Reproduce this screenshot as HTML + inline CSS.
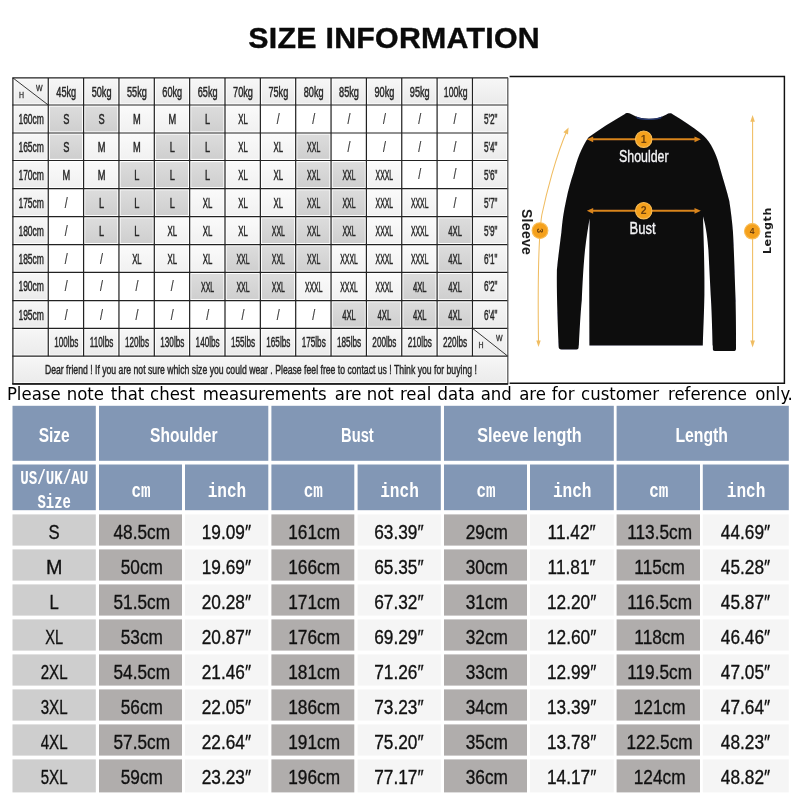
<!DOCTYPE html>
<html lang="en"><head><meta charset="utf-8"><title>Size Information</title>
<style>
html,body{margin:0;padding:0;background:#fff;}
body{width:800px;height:800px;overflow:hidden;position:relative;font-family:"Liberation Sans",sans-serif;}
svg{position:absolute;left:0;top:0;display:block;}
text{font-family:"Liberation Sans",sans-serif;}
.tt{font-size:14px;fill:#262626;stroke:#262626;stroke-width:0.45px;text-anchor:middle;}
.bd{font-size:20.8px;fill:#111;stroke:#111;stroke-width:0.35px;text-anchor:middle;}
.note{font-family:"DejaVu Sans Condensed","DejaVu Sans",sans-serif;font-stretch:condensed;font-size:18.4px;fill:#000;}
.h1{font-size:20px;font-weight:bold;fill:#fff;text-anchor:middle;}
.h2{font-family:"Liberation Mono",monospace;font-weight:bold;fill:#fff;text-anchor:middle;}
</style></head><body>
<svg width="800" height="800" viewBox="0 0 800 800">
<defs>
<linearGradient id="gh" x1="0" y1="0" x2="0" y2="1"><stop offset="0" stop-color="#f6f6f6"/><stop offset="1" stop-color="#ebebeb"/></linearGradient>
<linearGradient id="gd" x1="0" y1="0" x2="0" y2="1"><stop offset="0" stop-color="#dcdcdc"/><stop offset="1" stop-color="#cfcfcf"/></linearGradient>
<linearGradient id="gl" x1="0" y1="0" x2="0" y2="1"><stop offset="0" stop-color="#fafafa"/><stop offset="1" stop-color="#f1f1f1"/></linearGradient>
<filter id="soft" x="-2%" y="-2%" width="104%" height="104%"><feGaussianBlur stdDeviation="0.35"/></filter>
<filter id="soft2" x="-2%" y="-2%" width="104%" height="104%"><feGaussianBlur stdDeviation="0.3"/></filter>
</defs>

<text x="248.3" y="48.4" font-size="30.3" font-weight="bold" letter-spacing="0.28" fill="#0a0a0a" stroke="#0a0a0a" stroke-width="0.4">SIZE INFORMATION</text>
<g id="toptable" filter="url(#soft)">
<rect x="12.90" y="77.9" width="494.90" height="306.00" fill="#fff"/>
<rect x="14.50" y="79.50" width="32.15" height="23.90" fill="url(#gh)"/>
<rect x="14.50" y="329.90" width="32.15" height="24.70" fill="url(#gh)"/>
<rect x="49.85" y="79.50" width="32.15" height="23.90" fill="url(#gh)"/>
<rect x="49.85" y="329.90" width="32.15" height="24.70" fill="url(#gh)"/>
<rect x="85.20" y="79.50" width="32.15" height="23.90" fill="url(#gh)"/>
<rect x="85.20" y="329.90" width="32.15" height="24.70" fill="url(#gh)"/>
<rect x="120.55" y="79.50" width="32.15" height="23.90" fill="url(#gh)"/>
<rect x="120.55" y="329.90" width="32.15" height="24.70" fill="url(#gh)"/>
<rect x="155.90" y="79.50" width="32.15" height="23.90" fill="url(#gh)"/>
<rect x="155.90" y="329.90" width="32.15" height="24.70" fill="url(#gh)"/>
<rect x="191.25" y="79.50" width="32.15" height="23.90" fill="url(#gh)"/>
<rect x="191.25" y="329.90" width="32.15" height="24.70" fill="url(#gh)"/>
<rect x="226.60" y="79.50" width="32.15" height="23.90" fill="url(#gh)"/>
<rect x="226.60" y="329.90" width="32.15" height="24.70" fill="url(#gh)"/>
<rect x="261.95" y="79.50" width="32.15" height="23.90" fill="url(#gh)"/>
<rect x="261.95" y="329.90" width="32.15" height="24.70" fill="url(#gh)"/>
<rect x="297.30" y="79.50" width="32.15" height="23.90" fill="url(#gh)"/>
<rect x="297.30" y="329.90" width="32.15" height="24.70" fill="url(#gh)"/>
<rect x="332.65" y="79.50" width="32.15" height="23.90" fill="url(#gh)"/>
<rect x="332.65" y="329.90" width="32.15" height="24.70" fill="url(#gh)"/>
<rect x="368.00" y="79.50" width="32.15" height="23.90" fill="url(#gh)"/>
<rect x="368.00" y="329.90" width="32.15" height="24.70" fill="url(#gh)"/>
<rect x="403.35" y="79.50" width="32.15" height="23.90" fill="url(#gh)"/>
<rect x="403.35" y="329.90" width="32.15" height="24.70" fill="url(#gh)"/>
<rect x="438.70" y="79.50" width="32.15" height="23.90" fill="url(#gh)"/>
<rect x="438.70" y="329.90" width="32.15" height="24.70" fill="url(#gh)"/>
<rect x="474.05" y="79.50" width="32.15" height="23.90" fill="url(#gh)"/>
<rect x="474.05" y="329.90" width="32.15" height="24.70" fill="url(#gh)"/>
<rect x="14.50" y="357.80" width="491.70" height="24.50" fill="url(#gh)"/>
<rect x="14.50" y="106.60" width="32.15" height="24.80" fill="url(#gh)"/>
<rect x="474.05" y="106.60" width="32.15" height="24.80" fill="url(#gh)"/>
<rect x="49.85" y="106.60" width="32.15" height="24.80" fill="url(#gd)"/>
<rect x="85.20" y="106.60" width="32.15" height="24.80" fill="url(#gd)"/>
<rect x="120.55" y="106.60" width="32.15" height="24.80" fill="url(#gl)"/>
<rect x="155.90" y="106.60" width="32.15" height="24.80" fill="url(#gl)"/>
<rect x="191.25" y="106.60" width="32.15" height="24.80" fill="url(#gd)"/>
<rect x="226.60" y="106.60" width="32.15" height="24.80" fill="url(#gl)"/>
<rect x="14.50" y="134.60" width="32.15" height="24.30" fill="url(#gh)"/>
<rect x="474.05" y="134.60" width="32.15" height="24.30" fill="url(#gh)"/>
<rect x="49.85" y="134.60" width="32.15" height="24.30" fill="url(#gd)"/>
<rect x="85.20" y="134.60" width="32.15" height="24.30" fill="url(#gl)"/>
<rect x="120.55" y="134.60" width="32.15" height="24.30" fill="url(#gl)"/>
<rect x="155.90" y="134.60" width="32.15" height="24.30" fill="url(#gd)"/>
<rect x="191.25" y="134.60" width="32.15" height="24.30" fill="url(#gd)"/>
<rect x="226.60" y="134.60" width="32.15" height="24.30" fill="url(#gl)"/>
<rect x="261.95" y="134.60" width="32.15" height="24.30" fill="url(#gl)"/>
<rect x="297.30" y="134.60" width="32.15" height="24.30" fill="url(#gd)"/>
<rect x="14.50" y="162.10" width="32.15" height="25.00" fill="url(#gh)"/>
<rect x="474.05" y="162.10" width="32.15" height="25.00" fill="url(#gh)"/>
<rect x="49.85" y="162.10" width="32.15" height="25.00" fill="url(#gl)"/>
<rect x="85.20" y="162.10" width="32.15" height="25.00" fill="url(#gl)"/>
<rect x="120.55" y="162.10" width="32.15" height="25.00" fill="url(#gd)"/>
<rect x="155.90" y="162.10" width="32.15" height="25.00" fill="url(#gd)"/>
<rect x="191.25" y="162.10" width="32.15" height="25.00" fill="url(#gd)"/>
<rect x="226.60" y="162.10" width="32.15" height="25.00" fill="url(#gl)"/>
<rect x="261.95" y="162.10" width="32.15" height="25.00" fill="url(#gl)"/>
<rect x="297.30" y="162.10" width="32.15" height="25.00" fill="url(#gd)"/>
<rect x="332.65" y="162.10" width="32.15" height="25.00" fill="url(#gd)"/>
<rect x="368.00" y="162.10" width="32.15" height="25.00" fill="url(#gl)"/>
<rect x="14.50" y="190.30" width="32.15" height="24.80" fill="url(#gh)"/>
<rect x="474.05" y="190.30" width="32.15" height="24.80" fill="url(#gh)"/>
<rect x="85.20" y="190.30" width="32.15" height="24.80" fill="url(#gd)"/>
<rect x="120.55" y="190.30" width="32.15" height="24.80" fill="url(#gd)"/>
<rect x="155.90" y="190.30" width="32.15" height="24.80" fill="url(#gd)"/>
<rect x="191.25" y="190.30" width="32.15" height="24.80" fill="url(#gl)"/>
<rect x="226.60" y="190.30" width="32.15" height="24.80" fill="url(#gl)"/>
<rect x="261.95" y="190.30" width="32.15" height="24.80" fill="url(#gl)"/>
<rect x="297.30" y="190.30" width="32.15" height="24.80" fill="url(#gd)"/>
<rect x="332.65" y="190.30" width="32.15" height="24.80" fill="url(#gd)"/>
<rect x="368.00" y="190.30" width="32.15" height="24.80" fill="url(#gl)"/>
<rect x="403.35" y="190.30" width="32.15" height="24.80" fill="url(#gl)"/>
<rect x="14.50" y="218.30" width="32.15" height="24.70" fill="url(#gh)"/>
<rect x="474.05" y="218.30" width="32.15" height="24.70" fill="url(#gh)"/>
<rect x="85.20" y="218.30" width="32.15" height="24.70" fill="url(#gd)"/>
<rect x="120.55" y="218.30" width="32.15" height="24.70" fill="url(#gd)"/>
<rect x="155.90" y="218.30" width="32.15" height="24.70" fill="url(#gl)"/>
<rect x="191.25" y="218.30" width="32.15" height="24.70" fill="url(#gl)"/>
<rect x="226.60" y="218.30" width="32.15" height="24.70" fill="url(#gl)"/>
<rect x="261.95" y="218.30" width="32.15" height="24.70" fill="url(#gd)"/>
<rect x="297.30" y="218.30" width="32.15" height="24.70" fill="url(#gd)"/>
<rect x="332.65" y="218.30" width="32.15" height="24.70" fill="url(#gd)"/>
<rect x="368.00" y="218.30" width="32.15" height="24.70" fill="url(#gl)"/>
<rect x="403.35" y="218.30" width="32.15" height="24.70" fill="url(#gl)"/>
<rect x="438.70" y="218.30" width="32.15" height="24.70" fill="url(#gd)"/>
<rect x="14.50" y="246.20" width="32.15" height="24.60" fill="url(#gh)"/>
<rect x="474.05" y="246.20" width="32.15" height="24.60" fill="url(#gh)"/>
<rect x="120.55" y="246.20" width="32.15" height="24.60" fill="url(#gl)"/>
<rect x="155.90" y="246.20" width="32.15" height="24.60" fill="url(#gl)"/>
<rect x="191.25" y="246.20" width="32.15" height="24.60" fill="url(#gl)"/>
<rect x="226.60" y="246.20" width="32.15" height="24.60" fill="url(#gd)"/>
<rect x="261.95" y="246.20" width="32.15" height="24.60" fill="url(#gd)"/>
<rect x="297.30" y="246.20" width="32.15" height="24.60" fill="url(#gd)"/>
<rect x="332.65" y="246.20" width="32.15" height="24.60" fill="url(#gl)"/>
<rect x="368.00" y="246.20" width="32.15" height="24.60" fill="url(#gl)"/>
<rect x="403.35" y="246.20" width="32.15" height="24.60" fill="url(#gl)"/>
<rect x="438.70" y="246.20" width="32.15" height="24.60" fill="url(#gd)"/>
<rect x="14.50" y="274.00" width="32.15" height="25.10" fill="url(#gh)"/>
<rect x="474.05" y="274.00" width="32.15" height="25.10" fill="url(#gh)"/>
<rect x="191.25" y="274.00" width="32.15" height="25.10" fill="url(#gd)"/>
<rect x="226.60" y="274.00" width="32.15" height="25.10" fill="url(#gd)"/>
<rect x="261.95" y="274.00" width="32.15" height="25.10" fill="url(#gd)"/>
<rect x="297.30" y="274.00" width="32.15" height="25.10" fill="url(#gl)"/>
<rect x="332.65" y="274.00" width="32.15" height="25.10" fill="url(#gl)"/>
<rect x="368.00" y="274.00" width="32.15" height="25.10" fill="url(#gl)"/>
<rect x="403.35" y="274.00" width="32.15" height="25.10" fill="url(#gd)"/>
<rect x="438.70" y="274.00" width="32.15" height="25.10" fill="url(#gd)"/>
<rect x="14.50" y="302.30" width="32.15" height="24.40" fill="url(#gh)"/>
<rect x="474.05" y="302.30" width="32.15" height="24.40" fill="url(#gh)"/>
<rect x="332.65" y="302.30" width="32.15" height="24.40" fill="url(#gd)"/>
<rect x="368.00" y="302.30" width="32.15" height="24.40" fill="url(#gd)"/>
<rect x="403.35" y="302.30" width="32.15" height="24.40" fill="url(#gd)"/>
<rect x="438.70" y="302.30" width="32.15" height="24.40" fill="url(#gd)"/>
<line x1="12.30" y1="77.9" x2="508.10" y2="77.9" stroke="#222222" stroke-width="1.22"/>
<line x1="12.30" y1="105" x2="508.10" y2="105" stroke="#222222" stroke-width="1.22"/>
<line x1="12.30" y1="133" x2="508.10" y2="133" stroke="#222222" stroke-width="1.22"/>
<line x1="12.30" y1="160.5" x2="508.10" y2="160.5" stroke="#222222" stroke-width="1.22"/>
<line x1="12.30" y1="188.7" x2="508.10" y2="188.7" stroke="#222222" stroke-width="1.22"/>
<line x1="12.30" y1="216.7" x2="508.10" y2="216.7" stroke="#222222" stroke-width="1.22"/>
<line x1="12.30" y1="244.6" x2="508.10" y2="244.6" stroke="#222222" stroke-width="1.22"/>
<line x1="12.30" y1="272.4" x2="508.10" y2="272.4" stroke="#222222" stroke-width="1.22"/>
<line x1="12.30" y1="300.7" x2="508.10" y2="300.7" stroke="#222222" stroke-width="1.22"/>
<line x1="12.30" y1="328.3" x2="508.10" y2="328.3" stroke="#222222" stroke-width="1.22"/>
<line x1="12.30" y1="356.2" x2="508.10" y2="356.2" stroke="#222222" stroke-width="1.22"/>
<line x1="12.30" y1="383.9" x2="508.10" y2="383.9" stroke="#222222" stroke-width="1.22"/>
<line x1="12.90" y1="77.9" x2="12.90" y2="383.9" stroke="#222222" stroke-width="1.22"/>
<line x1="48.25" y1="77.9" x2="48.25" y2="356.2" stroke="#222222" stroke-width="1.22"/>
<line x1="83.60" y1="77.9" x2="83.60" y2="356.2" stroke="#222222" stroke-width="1.22"/>
<line x1="118.95" y1="77.9" x2="118.95" y2="356.2" stroke="#222222" stroke-width="1.22"/>
<line x1="154.30" y1="77.9" x2="154.30" y2="356.2" stroke="#222222" stroke-width="1.22"/>
<line x1="189.65" y1="77.9" x2="189.65" y2="356.2" stroke="#222222" stroke-width="1.22"/>
<line x1="225.00" y1="77.9" x2="225.00" y2="356.2" stroke="#222222" stroke-width="1.22"/>
<line x1="260.35" y1="77.9" x2="260.35" y2="356.2" stroke="#222222" stroke-width="1.22"/>
<line x1="295.70" y1="77.9" x2="295.70" y2="356.2" stroke="#222222" stroke-width="1.22"/>
<line x1="331.05" y1="77.9" x2="331.05" y2="356.2" stroke="#222222" stroke-width="1.22"/>
<line x1="366.40" y1="77.9" x2="366.40" y2="356.2" stroke="#222222" stroke-width="1.22"/>
<line x1="401.75" y1="77.9" x2="401.75" y2="356.2" stroke="#222222" stroke-width="1.22"/>
<line x1="437.10" y1="77.9" x2="437.10" y2="356.2" stroke="#222222" stroke-width="1.22"/>
<line x1="472.45" y1="77.9" x2="472.45" y2="356.2" stroke="#222222" stroke-width="1.22"/>
<line x1="507.80" y1="77.9" x2="507.80" y2="383.9" stroke="#5a5a5a" stroke-width="1.3"/>
<line x1="12.30" y1="383.9" x2="508.10" y2="383.9" stroke="#222222" stroke-width="1.7"/>
<line x1="12.90" y1="77.9" x2="48.25" y2="105" stroke="#222222" stroke-width="0.9"/>
<line x1="472.45" y1="328.3" x2="507.80" y2="356.2" stroke="#222222" stroke-width="0.9"/>
<text class="tt" transform="translate(66.23,96.70) scale(0.655,1)" >45kg</text>
<text class="tt" transform="translate(66.23,346.60) scale(0.585,1)" >100lbs</text>
<text class="tt" transform="translate(101.58,96.70) scale(0.655,1)" >50kg</text>
<text class="tt" transform="translate(101.58,346.60) scale(0.585,1)" >110lbs</text>
<text class="tt" transform="translate(136.93,96.70) scale(0.655,1)" >55kg</text>
<text class="tt" transform="translate(136.93,346.60) scale(0.585,1)" >120lbs</text>
<text class="tt" transform="translate(172.28,96.70) scale(0.655,1)" >60kg</text>
<text class="tt" transform="translate(172.28,346.60) scale(0.585,1)" >130lbs</text>
<text class="tt" transform="translate(207.63,96.70) scale(0.655,1)" >65kg</text>
<text class="tt" transform="translate(207.63,346.60) scale(0.585,1)" >140lbs</text>
<text class="tt" transform="translate(242.98,96.70) scale(0.655,1)" >70kg</text>
<text class="tt" transform="translate(242.98,346.60) scale(0.585,1)" >155lbs</text>
<text class="tt" transform="translate(278.32,96.70) scale(0.655,1)" >75kg</text>
<text class="tt" transform="translate(278.32,346.60) scale(0.585,1)" >165lbs</text>
<text class="tt" transform="translate(313.68,96.70) scale(0.655,1)" >80kg</text>
<text class="tt" transform="translate(313.68,346.60) scale(0.585,1)" >175lbs</text>
<text class="tt" transform="translate(349.03,96.70) scale(0.655,1)" >85kg</text>
<text class="tt" transform="translate(349.03,346.60) scale(0.585,1)" >185lbs</text>
<text class="tt" transform="translate(384.38,96.70) scale(0.655,1)" >90kg</text>
<text class="tt" transform="translate(384.38,346.60) scale(0.585,1)" >200lbs</text>
<text class="tt" transform="translate(419.73,96.70) scale(0.655,1)" >95kg</text>
<text class="tt" transform="translate(419.73,346.60) scale(0.585,1)" >210lbs</text>
<text class="tt" transform="translate(455.68,96.70) scale(0.62,1)" >100kg</text>
<text class="tt" transform="translate(455.07,346.60) scale(0.585,1)" >220lbs</text>
<text class="tt" transform="translate(31.18,124.00) scale(0.61,1)" >160cm</text>
<text class="tt" transform="translate(490.73,124.00) scale(0.585,1)" >5'2&quot;</text>
<text class="tt" transform="translate(66.23,124.20) scale(0.66,1)" >S</text>
<text class="tt" transform="translate(101.58,124.20) scale(0.66,1)" >S</text>
<text class="tt" transform="translate(136.93,124.20) scale(0.66,1)" >M</text>
<text class="tt" transform="translate(172.28,124.20) scale(0.66,1)" >M</text>
<text class="tt" transform="translate(207.63,124.20) scale(0.66,1)" >L</text>
<text class="tt" transform="translate(242.98,124.20) scale(0.56,1)" >XL</text>
<text class="tt" transform="translate(278.32,123.90) scale(0.75,1)" style="stroke-width:0.2px;fill:#333;font-size:14px">/</text>
<text class="tt" transform="translate(313.68,123.90) scale(0.75,1)" style="stroke-width:0.2px;fill:#333;font-size:14px">/</text>
<text class="tt" transform="translate(349.03,123.90) scale(0.75,1)" style="stroke-width:0.2px;fill:#333;font-size:14px">/</text>
<text class="tt" transform="translate(384.38,123.90) scale(0.75,1)" style="stroke-width:0.2px;fill:#333;font-size:14px">/</text>
<text class="tt" transform="translate(419.73,123.90) scale(0.75,1)" style="stroke-width:0.2px;fill:#333;font-size:14px">/</text>
<text class="tt" transform="translate(455.07,123.90) scale(0.75,1)" style="stroke-width:0.2px;fill:#333;font-size:14px">/</text>
<text class="tt" transform="translate(31.18,152.00) scale(0.61,1)" >165cm</text>
<text class="tt" transform="translate(490.73,152.00) scale(0.585,1)" >5'4&quot;</text>
<text class="tt" transform="translate(66.23,152.20) scale(0.66,1)" >S</text>
<text class="tt" transform="translate(101.58,152.20) scale(0.66,1)" >M</text>
<text class="tt" transform="translate(136.93,152.20) scale(0.66,1)" >M</text>
<text class="tt" transform="translate(172.28,152.20) scale(0.66,1)" >L</text>
<text class="tt" transform="translate(207.63,152.20) scale(0.66,1)" >L</text>
<text class="tt" transform="translate(242.98,152.20) scale(0.56,1)" >XL</text>
<text class="tt" transform="translate(278.32,152.20) scale(0.56,1)" >XL</text>
<text class="tt" transform="translate(313.68,152.20) scale(0.5,1)" >XXL</text>
<text class="tt" transform="translate(349.03,151.90) scale(0.75,1)" style="stroke-width:0.2px;fill:#333;font-size:14px">/</text>
<text class="tt" transform="translate(384.38,151.90) scale(0.75,1)" style="stroke-width:0.2px;fill:#333;font-size:14px">/</text>
<text class="tt" transform="translate(419.73,151.90) scale(0.75,1)" style="stroke-width:0.2px;fill:#333;font-size:14px">/</text>
<text class="tt" transform="translate(455.07,151.90) scale(0.75,1)" style="stroke-width:0.2px;fill:#333;font-size:14px">/</text>
<text class="tt" transform="translate(31.18,179.50) scale(0.61,1)" >170cm</text>
<text class="tt" transform="translate(490.73,179.50) scale(0.585,1)" >5'6&quot;</text>
<text class="tt" transform="translate(66.23,179.70) scale(0.66,1)" >M</text>
<text class="tt" transform="translate(101.58,179.70) scale(0.66,1)" >M</text>
<text class="tt" transform="translate(136.93,179.70) scale(0.66,1)" >L</text>
<text class="tt" transform="translate(172.28,179.70) scale(0.66,1)" >L</text>
<text class="tt" transform="translate(207.63,179.70) scale(0.66,1)" >L</text>
<text class="tt" transform="translate(242.98,179.70) scale(0.56,1)" >XL</text>
<text class="tt" transform="translate(278.32,179.70) scale(0.56,1)" >XL</text>
<text class="tt" transform="translate(313.68,179.70) scale(0.5,1)" >XXL</text>
<text class="tt" transform="translate(349.03,179.70) scale(0.5,1)" >XXL</text>
<text class="tt" transform="translate(384.38,179.70) scale(0.49,1)" >XXXL</text>
<text class="tt" transform="translate(419.73,179.40) scale(0.75,1)" style="stroke-width:0.2px;fill:#333;font-size:14px">/</text>
<text class="tt" transform="translate(455.07,179.40) scale(0.75,1)" style="stroke-width:0.2px;fill:#333;font-size:14px">/</text>
<text class="tt" transform="translate(31.18,207.70) scale(0.61,1)" >175cm</text>
<text class="tt" transform="translate(490.73,207.70) scale(0.585,1)" >5'7&quot;</text>
<text class="tt" transform="translate(66.23,207.60) scale(0.75,1)" style="stroke-width:0.2px;fill:#333;font-size:14px">/</text>
<text class="tt" transform="translate(101.58,207.90) scale(0.66,1)" >L</text>
<text class="tt" transform="translate(136.93,207.90) scale(0.66,1)" >L</text>
<text class="tt" transform="translate(172.28,207.90) scale(0.66,1)" >L</text>
<text class="tt" transform="translate(207.63,207.90) scale(0.56,1)" >XL</text>
<text class="tt" transform="translate(242.98,207.90) scale(0.56,1)" >XL</text>
<text class="tt" transform="translate(278.32,207.90) scale(0.56,1)" >XL</text>
<text class="tt" transform="translate(313.68,207.90) scale(0.5,1)" >XXL</text>
<text class="tt" transform="translate(349.03,207.90) scale(0.5,1)" >XXL</text>
<text class="tt" transform="translate(384.38,207.90) scale(0.49,1)" >XXXL</text>
<text class="tt" transform="translate(419.73,207.90) scale(0.49,1)" >XXXL</text>
<text class="tt" transform="translate(455.07,207.60) scale(0.75,1)" style="stroke-width:0.2px;fill:#333;font-size:14px">/</text>
<text class="tt" transform="translate(31.18,235.70) scale(0.61,1)" >180cm</text>
<text class="tt" transform="translate(490.73,235.70) scale(0.585,1)" >5'9&quot;</text>
<text class="tt" transform="translate(66.23,235.60) scale(0.75,1)" style="stroke-width:0.2px;fill:#333;font-size:14px">/</text>
<text class="tt" transform="translate(101.58,235.90) scale(0.66,1)" >L</text>
<text class="tt" transform="translate(136.93,235.90) scale(0.66,1)" >L</text>
<text class="tt" transform="translate(172.28,235.90) scale(0.56,1)" >XL</text>
<text class="tt" transform="translate(207.63,235.90) scale(0.56,1)" >XL</text>
<text class="tt" transform="translate(242.98,235.90) scale(0.56,1)" >XL</text>
<text class="tt" transform="translate(278.32,235.90) scale(0.5,1)" >XXL</text>
<text class="tt" transform="translate(313.68,235.90) scale(0.5,1)" >XXL</text>
<text class="tt" transform="translate(349.03,235.90) scale(0.5,1)" >XXL</text>
<text class="tt" transform="translate(384.38,235.90) scale(0.49,1)" >XXXL</text>
<text class="tt" transform="translate(419.73,235.90) scale(0.49,1)" >XXXL</text>
<text class="tt" transform="translate(455.07,235.90) scale(0.55,1)" >4XL</text>
<text class="tt" transform="translate(31.18,263.60) scale(0.61,1)" >185cm</text>
<text class="tt" transform="translate(490.73,263.60) scale(0.585,1)" >6'1&quot;</text>
<text class="tt" transform="translate(66.23,263.50) scale(0.75,1)" style="stroke-width:0.2px;fill:#333;font-size:14px">/</text>
<text class="tt" transform="translate(101.58,263.50) scale(0.75,1)" style="stroke-width:0.2px;fill:#333;font-size:14px">/</text>
<text class="tt" transform="translate(136.93,263.80) scale(0.56,1)" >XL</text>
<text class="tt" transform="translate(172.28,263.80) scale(0.56,1)" >XL</text>
<text class="tt" transform="translate(207.63,263.80) scale(0.56,1)" >XL</text>
<text class="tt" transform="translate(242.98,263.80) scale(0.5,1)" >XXL</text>
<text class="tt" transform="translate(278.32,263.80) scale(0.5,1)" >XXL</text>
<text class="tt" transform="translate(313.68,263.80) scale(0.5,1)" >XXL</text>
<text class="tt" transform="translate(349.03,263.80) scale(0.49,1)" >XXXL</text>
<text class="tt" transform="translate(384.38,263.80) scale(0.49,1)" >XXXL</text>
<text class="tt" transform="translate(419.73,263.80) scale(0.49,1)" >XXXL</text>
<text class="tt" transform="translate(455.07,263.80) scale(0.55,1)" >4XL</text>
<text class="tt" transform="translate(31.18,291.40) scale(0.61,1)" >190cm</text>
<text class="tt" transform="translate(490.73,291.40) scale(0.585,1)" >6'2&quot;</text>
<text class="tt" transform="translate(66.23,291.30) scale(0.75,1)" style="stroke-width:0.2px;fill:#333;font-size:14px">/</text>
<text class="tt" transform="translate(101.58,291.30) scale(0.75,1)" style="stroke-width:0.2px;fill:#333;font-size:14px">/</text>
<text class="tt" transform="translate(136.93,291.30) scale(0.75,1)" style="stroke-width:0.2px;fill:#333;font-size:14px">/</text>
<text class="tt" transform="translate(172.28,291.30) scale(0.75,1)" style="stroke-width:0.2px;fill:#333;font-size:14px">/</text>
<text class="tt" transform="translate(207.63,291.60) scale(0.5,1)" >XXL</text>
<text class="tt" transform="translate(242.98,291.60) scale(0.5,1)" >XXL</text>
<text class="tt" transform="translate(278.32,291.60) scale(0.5,1)" >XXL</text>
<text class="tt" transform="translate(313.68,291.60) scale(0.49,1)" >XXXL</text>
<text class="tt" transform="translate(349.03,291.60) scale(0.49,1)" >XXXL</text>
<text class="tt" transform="translate(384.38,291.60) scale(0.49,1)" >XXXL</text>
<text class="tt" transform="translate(419.73,291.60) scale(0.55,1)" >4XL</text>
<text class="tt" transform="translate(455.07,291.60) scale(0.55,1)" >4XL</text>
<text class="tt" transform="translate(31.18,319.70) scale(0.61,1)" >195cm</text>
<text class="tt" transform="translate(490.73,319.70) scale(0.585,1)" >6'4&quot;</text>
<text class="tt" transform="translate(66.23,319.60) scale(0.75,1)" style="stroke-width:0.2px;fill:#333;font-size:14px">/</text>
<text class="tt" transform="translate(101.58,319.60) scale(0.75,1)" style="stroke-width:0.2px;fill:#333;font-size:14px">/</text>
<text class="tt" transform="translate(136.93,319.60) scale(0.75,1)" style="stroke-width:0.2px;fill:#333;font-size:14px">/</text>
<text class="tt" transform="translate(172.28,319.60) scale(0.75,1)" style="stroke-width:0.2px;fill:#333;font-size:14px">/</text>
<text class="tt" transform="translate(207.63,319.60) scale(0.75,1)" style="stroke-width:0.2px;fill:#333;font-size:14px">/</text>
<text class="tt" transform="translate(242.98,319.60) scale(0.75,1)" style="stroke-width:0.2px;fill:#333;font-size:14px">/</text>
<text class="tt" transform="translate(278.32,319.60) scale(0.75,1)" style="stroke-width:0.2px;fill:#333;font-size:14px">/</text>
<text class="tt" transform="translate(313.68,319.60) scale(0.75,1)" style="stroke-width:0.2px;fill:#333;font-size:14px">/</text>
<text class="tt" transform="translate(349.03,319.90) scale(0.55,1)" >4XL</text>
<text class="tt" transform="translate(384.38,319.90) scale(0.55,1)" >4XL</text>
<text class="tt" transform="translate(419.73,319.90) scale(0.55,1)" >4XL</text>
<text class="tt" transform="translate(455.07,319.90) scale(0.55,1)" >4XL</text>
<text transform="translate(21.6,98.2) scale(0.85,1)" font-size="8.2" fill="#333" stroke="#333" stroke-width="0.3" text-anchor="middle">H</text>
<text transform="translate(39.3,90.6) scale(0.85,1)" font-size="8.2" fill="#333" stroke="#333" stroke-width="0.3" text-anchor="middle">W</text>
<text transform="translate(481,348.2) scale(0.85,1)" font-size="8.2" fill="#333" stroke="#333" stroke-width="0.3" text-anchor="middle">H</text>
<text transform="translate(499.3,341.2) scale(0.85,1)" font-size="8.2" fill="#333" stroke="#333" stroke-width="0.3" text-anchor="middle">W</text>
<text class="tt" x="260.9" y="374.20" style="font-size:13.5px" textLength="432" lengthAdjust="spacingAndGlyphs">Dear friend ! If you are not sure which size you could wear . Please feel free to contact us ! Think you for buying !</text>
</g>
<g id="product">
<path d="M509.6,76.5 L784.4,76.5 L784.4,383.3 L509.6,383.3" fill="none" stroke="#111" stroke-width="1.45"/>
<g filter="url(#soft2)">
<path d="M624.5,114.2 C626,112.6 629,112.8 631,114 C637,117.6 643,118.8 648.5,118.8 C655,118.8 661,117.8 666.5,114.4 C668.5,113 671.5,112.8 673,114.6
 C683,120.6 692.5,127 701,133.6 C709,140 714,149 718,161 C723,179 727,191 729.3,201 C731,212 732.2,222 732.9,231 C733.8,245 734.6,270 735.6,300 C736,320 736.1,338 736,348.4 C736,350.4 735.2,351 733.5,351
 L715,351 C713.2,351 712.6,350 712.6,348 L712.6,345.5 L578.8,345.6 L578.8,346.5 C578.8,348.5 578.2,349.4 576.5,349.4 L561.5,349.4 C559.6,349.4 558.6,348.6 558.6,346
 C557.4,315 556.6,290 556.9,270 C558,258 559.8,245 561.4,232 C562.2,222 563.5,212 566.2,200 C568.5,189 571,180 573.8,172 C577,160 581.5,147 588.6,137.2
 C600,129 612.3,121.2 624.5,114.2 Z" fill="#0b0b10"/>
<path d="M703,216.3 C706.4,228 707.6,240 708.4,250 C709.2,265 710.2,285 711,300 C711.8,315 712.4,335 712.6,348 L712.6,354 L702.8,354 L702.8,345.5 C703.2,332 704,315 704.4,295 C704.8,275 703.8,245 703,216.3 Z" fill="#fff"/>
<path d="M589.6,218.6 C588,228 586.4,238 585,250 C583.2,268 582.3,288 581.8,300 C580.6,312 579.6,330 578.8,346.5 L578.8,354 L589.4,354 L589.4,345.6 L589.2,270 Z" fill="#fff"/>
<path d="M636,116.6 C644,119.6 654,119.6 662,116.6 L661,118.6 C653,120.6 644,120.6 637,118.6 Z" fill="#27386e"/>
<line x1="592" y1="139.3" x2="696" y2="139.3" stroke="#d9851c" stroke-width="1.9"/>
<path d="M586.8,139.3 L593.2,136.4 L593.2,142.20000000000002 Z" fill="#d9851c"/>
<path d="M700.9,139.3 L694.5,136.4 L694.5,142.20000000000002 Z" fill="#d9851c"/>
<line x1="592" y1="210.8" x2="696" y2="210.8" stroke="#d9851c" stroke-width="1.9"/>
<path d="M586.8,210.8 L593.2,207.9 L593.2,213.70000000000002 Z" fill="#d9851c"/>
<path d="M700.9,210.8 L694.5,207.9 L694.5,213.70000000000002 Z" fill="#d9851c"/>
<circle cx="643.7" cy="139.2" r="8.2" fill="#f5a11f" stroke="#f9bd55" stroke-width="1.1"/>
<text transform="translate(643.7,139.2) rotate(0)" y="3.62" font-size="10.5" font-weight="bold" fill="#70420c" text-anchor="middle">1</text>
<circle cx="643.7" cy="210.7" r="8.2" fill="#f5a11f" stroke="#f9bd55" stroke-width="1.1"/>
<text transform="translate(643.7,210.7) rotate(0)" y="3.62" font-size="10.5" font-weight="bold" fill="#70420c" text-anchor="middle">2</text>
<text x="643.8" y="161.9" font-size="16" fill="#f4f4f4" text-anchor="middle" textLength="49.5" lengthAdjust="spacingAndGlyphs" stroke="#f4f4f4" stroke-width="0.35">Shoulder</text>
<text x="642.6" y="234.3" font-size="16" fill="#f4f4f4" text-anchor="middle" textLength="26" lengthAdjust="spacingAndGlyphs" stroke="#f4f4f4" stroke-width="0.35">Bust</text>
<path d="M567.2,130.2 C556,155 546,195 541.8,215 C538,240 537.8,290 538.5,342" fill="none" stroke="#f0bd62" stroke-width="1.05"/>
<path d="M568.6,127.4 L563.4,132.2 L568,134.4 Z" fill="#f0bd62"/>
<path d="M538.5,347 L536.3,340.6 L540.7,340.6 Z" fill="#f0bd62"/>
<circle cx="540" cy="230.6" r="7.9" fill="#f5a11f" stroke="#f9bd55" stroke-width="1.1"/>
<text transform="translate(540,230.6) rotate(90)" y="2.93" font-size="8.5" font-weight="bold" fill="#70420c" text-anchor="middle">3</text>
<line x1="752.6" y1="119" x2="752.6" y2="343" stroke="#f0bd62" stroke-width="1.05"/>
<path d="M752.6,115 L750.3,121.8 L754.9,121.8 Z" fill="#f0bd62"/>
<path d="M752.6,347.4 L750.3,340.6 L754.9,340.6 Z" fill="#f0bd62"/>
<circle cx="752.2" cy="231.3" r="7.7" fill="#f5a11f" stroke="#f9bd55" stroke-width="1.1"/>
<text transform="translate(752.2,231.3) rotate(0)" y="2.93" font-size="8.5" font-weight="bold" fill="#70420c" text-anchor="middle">4</text>
<text transform="translate(521.9,231.9) rotate(90)" font-size="14" font-weight="bold" fill="#1c1c1c" text-anchor="middle" textLength="46" lengthAdjust="spacing">Sleeve</text>
<text transform="translate(771.2,230.9) rotate(-90)" style="font-family:'DejaVu Sans',sans-serif" font-size="11.1" font-weight="bold" fill="#1c1c1c" text-anchor="middle" textLength="46.4" lengthAdjust="spacing">Length</text>
</g></g>
<text class="note" y="400.1"><tspan x="6.90">Please </tspan><tspan x="66.72">note </tspan><tspan x="110.70">that </tspan><tspan x="150.05">chest </tspan><tspan x="202.70">measurements </tspan><tspan x="334.77">are </tspan><tspan x="366.72">not </tspan><tspan x="399.98">real </tspan><tspan x="437.60">data </tspan><tspan x="480.65">and </tspan><tspan x="519.15">are </tspan><tspan x="551.73">for </tspan><tspan x="581.12">customer </tspan><tspan x="668.00">reference </tspan><tspan x="755.20">only.</tspan></text>
<g id="sizetable">
<rect x="12.5" y="405.8" width="83.30" height="55.00" fill="#8297b5"/>
<rect x="99.0" y="405.8" width="169.30" height="55.00" fill="#8297b5"/>
<text class="h1" x="183.85" y="442.3" textLength="67.5" lengthAdjust="spacingAndGlyphs">Shoulder</text>
<rect x="271.4" y="405.8" width="169.40" height="55.00" fill="#8297b5"/>
<text class="h1" x="357.40" y="442.3" textLength="32.7" lengthAdjust="spacingAndGlyphs">Bust</text>
<rect x="444.0" y="405.8" width="169.80" height="55.00" fill="#8297b5"/>
<text class="h1" x="529.50" y="442.3" textLength="104.4" lengthAdjust="spacingAndGlyphs">Sleeve length</text>
<rect x="616.6" y="405.8" width="172.20" height="55.00" fill="#8297b5"/>
<text class="h1" x="701.70" y="442.3" textLength="52.6" lengthAdjust="spacingAndGlyphs">Length</text>
<text class="h1" x="54.15" y="442.3" textLength="31" lengthAdjust="spacingAndGlyphs">Size</text>
<rect x="12.5" y="464.5" width="83.30" height="45.70" fill="#8297b5"/>
<text class="h2" x="54.15" y="483.9" font-size="19.7" textLength="68" lengthAdjust="spacingAndGlyphs">US/UK/AU</text>
<text class="h2" x="54.15" y="507.6" font-size="19.7" textLength="33.5" lengthAdjust="spacingAndGlyphs">Size</text>
<rect x="99.0" y="464.5" width="83.00" height="45.70" fill="#8297b5"/>
<text class="h2" x="141.00" y="496.9" font-size="20.8" textLength="19.2" lengthAdjust="spacingAndGlyphs">cm</text>
<rect x="185.0" y="464.5" width="83.30" height="45.70" fill="#8297b5"/>
<text class="h2" x="226.95" y="496.9" font-size="20.8" textLength="38.6" lengthAdjust="spacingAndGlyphs">inch</text>
<rect x="271.4" y="464.5" width="82.90" height="45.70" fill="#8297b5"/>
<text class="h2" x="313.35" y="496.9" font-size="20.8" textLength="19.2" lengthAdjust="spacingAndGlyphs">cm</text>
<rect x="357.6" y="464.5" width="83.20" height="45.70" fill="#8297b5"/>
<text class="h2" x="399.50" y="496.9" font-size="20.8" textLength="38.6" lengthAdjust="spacingAndGlyphs">inch</text>
<rect x="444.0" y="464.5" width="83.00" height="45.70" fill="#8297b5"/>
<text class="h2" x="486.00" y="496.9" font-size="20.8" textLength="19.2" lengthAdjust="spacingAndGlyphs">cm</text>
<rect x="530.0" y="464.5" width="83.80" height="45.70" fill="#8297b5"/>
<text class="h2" x="572.20" y="496.9" font-size="20.8" textLength="38.6" lengthAdjust="spacingAndGlyphs">inch</text>
<rect x="616.6" y="464.5" width="83.40" height="45.70" fill="#8297b5"/>
<text class="h2" x="658.80" y="496.9" font-size="20.8" textLength="19.2" lengthAdjust="spacingAndGlyphs">cm</text>
<rect x="702.8" y="464.5" width="86.00" height="45.70" fill="#8297b5"/>
<text class="h2" x="746.10" y="496.9" font-size="20.8" textLength="38.6" lengthAdjust="spacingAndGlyphs">inch</text>
<rect x="12.5" y="514.40" width="83.30" height="31.2" fill="#cecece"/>
<text class="bd" transform="translate(54.15,539.40) scale(0.8,1)">S</text>
<rect x="99.0" y="514.40" width="83.00" height="31.2" fill="#b0adac"/>
<text class="bd" transform="translate(141.80,539.40) scale(0.83,1)">48.5cm</text>
<rect x="185.0" y="514.40" width="83.30" height="31.2" fill="#f5f5f5"/>
<text class="bd" transform="translate(226.35,539.40) scale(0.83,1)">19.09″</text>
<rect x="271.4" y="514.40" width="82.90" height="31.2" fill="#b0adac"/>
<text class="bd" transform="translate(314.15,539.40) scale(0.83,1)">161cm</text>
<rect x="357.6" y="514.40" width="83.20" height="31.2" fill="#f5f5f5"/>
<text class="bd" transform="translate(398.90,539.40) scale(0.83,1)">63.39″</text>
<rect x="444.0" y="514.40" width="83.00" height="31.2" fill="#b0adac"/>
<text class="bd" transform="translate(486.80,539.40) scale(0.83,1)">29cm</text>
<rect x="530.0" y="514.40" width="83.80" height="31.2" fill="#f5f5f5"/>
<text class="bd" transform="translate(571.60,539.40) scale(0.83,1)">11.42″</text>
<rect x="616.6" y="514.40" width="83.40" height="31.2" fill="#b0adac"/>
<text class="bd" transform="translate(659.60,539.40) scale(0.83,1)">113.5cm</text>
<rect x="702.8" y="514.40" width="86.00" height="31.2" fill="#f5f5f5"/>
<text class="bd" transform="translate(745.50,539.40) scale(0.83,1)">44.69″</text>
<rect x="12.5" y="549.40" width="83.30" height="31.2" fill="#cecece"/>
<text class="bd" transform="translate(54.15,574.40) scale(0.95,1)">M</text>
<rect x="99.0" y="549.40" width="83.00" height="31.2" fill="#b0adac"/>
<text class="bd" transform="translate(141.80,574.40) scale(0.83,1)">50cm</text>
<rect x="185.0" y="549.40" width="83.30" height="31.2" fill="#f5f5f5"/>
<text class="bd" transform="translate(226.35,574.40) scale(0.83,1)">19.69″</text>
<rect x="271.4" y="549.40" width="82.90" height="31.2" fill="#b0adac"/>
<text class="bd" transform="translate(314.15,574.40) scale(0.83,1)">166cm</text>
<rect x="357.6" y="549.40" width="83.20" height="31.2" fill="#f5f5f5"/>
<text class="bd" transform="translate(398.90,574.40) scale(0.83,1)">65.35″</text>
<rect x="444.0" y="549.40" width="83.00" height="31.2" fill="#b0adac"/>
<text class="bd" transform="translate(486.80,574.40) scale(0.83,1)">30cm</text>
<rect x="530.0" y="549.40" width="83.80" height="31.2" fill="#f5f5f5"/>
<text class="bd" transform="translate(571.60,574.40) scale(0.83,1)">11.81″</text>
<rect x="616.6" y="549.40" width="83.40" height="31.2" fill="#b0adac"/>
<text class="bd" transform="translate(659.60,574.40) scale(0.83,1)">115cm</text>
<rect x="702.8" y="549.40" width="86.00" height="31.2" fill="#f5f5f5"/>
<text class="bd" transform="translate(745.50,574.40) scale(0.83,1)">45.28″</text>
<rect x="12.5" y="584.40" width="83.30" height="31.2" fill="#cecece"/>
<text class="bd" transform="translate(54.15,609.40) scale(0.8,1)">L</text>
<rect x="99.0" y="584.40" width="83.00" height="31.2" fill="#b0adac"/>
<text class="bd" transform="translate(141.80,609.40) scale(0.83,1)">51.5cm</text>
<rect x="185.0" y="584.40" width="83.30" height="31.2" fill="#f5f5f5"/>
<text class="bd" transform="translate(226.35,609.40) scale(0.83,1)">20.28″</text>
<rect x="271.4" y="584.40" width="82.90" height="31.2" fill="#b0adac"/>
<text class="bd" transform="translate(314.15,609.40) scale(0.83,1)">171cm</text>
<rect x="357.6" y="584.40" width="83.20" height="31.2" fill="#f5f5f5"/>
<text class="bd" transform="translate(398.90,609.40) scale(0.83,1)">67.32″</text>
<rect x="444.0" y="584.40" width="83.00" height="31.2" fill="#b0adac"/>
<text class="bd" transform="translate(486.80,609.40) scale(0.83,1)">31cm</text>
<rect x="530.0" y="584.40" width="83.80" height="31.2" fill="#f5f5f5"/>
<text class="bd" transform="translate(571.60,609.40) scale(0.83,1)">12.20″</text>
<rect x="616.6" y="584.40" width="83.40" height="31.2" fill="#b0adac"/>
<text class="bd" transform="translate(659.60,609.40) scale(0.83,1)">116.5cm</text>
<rect x="702.8" y="584.40" width="86.00" height="31.2" fill="#f5f5f5"/>
<text class="bd" transform="translate(745.50,609.40) scale(0.83,1)">45.87″</text>
<rect x="12.5" y="619.40" width="83.30" height="31.2" fill="#cecece"/>
<text class="bd" transform="translate(54.15,644.40) scale(0.7,1)">XL</text>
<rect x="99.0" y="619.40" width="83.00" height="31.2" fill="#b0adac"/>
<text class="bd" transform="translate(141.80,644.40) scale(0.83,1)">53cm</text>
<rect x="185.0" y="619.40" width="83.30" height="31.2" fill="#f5f5f5"/>
<text class="bd" transform="translate(226.35,644.40) scale(0.83,1)">20.87″</text>
<rect x="271.4" y="619.40" width="82.90" height="31.2" fill="#b0adac"/>
<text class="bd" transform="translate(314.15,644.40) scale(0.83,1)">176cm</text>
<rect x="357.6" y="619.40" width="83.20" height="31.2" fill="#f5f5f5"/>
<text class="bd" transform="translate(398.90,644.40) scale(0.83,1)">69.29″</text>
<rect x="444.0" y="619.40" width="83.00" height="31.2" fill="#b0adac"/>
<text class="bd" transform="translate(486.80,644.40) scale(0.83,1)">32cm</text>
<rect x="530.0" y="619.40" width="83.80" height="31.2" fill="#f5f5f5"/>
<text class="bd" transform="translate(571.60,644.40) scale(0.83,1)">12.60″</text>
<rect x="616.6" y="619.40" width="83.40" height="31.2" fill="#b0adac"/>
<text class="bd" transform="translate(659.60,644.40) scale(0.83,1)">118cm</text>
<rect x="702.8" y="619.40" width="86.00" height="31.2" fill="#f5f5f5"/>
<text class="bd" transform="translate(745.50,644.40) scale(0.83,1)">46.46″</text>
<rect x="12.5" y="654.40" width="83.30" height="31.2" fill="#cecece"/>
<text class="bd" transform="translate(54.15,679.40) scale(0.725,1)">2XL</text>
<rect x="99.0" y="654.40" width="83.00" height="31.2" fill="#b0adac"/>
<text class="bd" transform="translate(141.80,679.40) scale(0.83,1)">54.5cm</text>
<rect x="185.0" y="654.40" width="83.30" height="31.2" fill="#f5f5f5"/>
<text class="bd" transform="translate(226.35,679.40) scale(0.83,1)">21.46″</text>
<rect x="271.4" y="654.40" width="82.90" height="31.2" fill="#b0adac"/>
<text class="bd" transform="translate(314.15,679.40) scale(0.83,1)">181cm</text>
<rect x="357.6" y="654.40" width="83.20" height="31.2" fill="#f5f5f5"/>
<text class="bd" transform="translate(398.90,679.40) scale(0.83,1)">71.26″</text>
<rect x="444.0" y="654.40" width="83.00" height="31.2" fill="#b0adac"/>
<text class="bd" transform="translate(486.80,679.40) scale(0.83,1)">33cm</text>
<rect x="530.0" y="654.40" width="83.80" height="31.2" fill="#f5f5f5"/>
<text class="bd" transform="translate(571.60,679.40) scale(0.83,1)">12.99″</text>
<rect x="616.6" y="654.40" width="83.40" height="31.2" fill="#b0adac"/>
<text class="bd" transform="translate(659.60,679.40) scale(0.83,1)">119.5cm</text>
<rect x="702.8" y="654.40" width="86.00" height="31.2" fill="#f5f5f5"/>
<text class="bd" transform="translate(745.50,679.40) scale(0.83,1)">47.05″</text>
<rect x="12.5" y="689.40" width="83.30" height="31.2" fill="#cecece"/>
<text class="bd" transform="translate(54.15,714.40) scale(0.725,1)">3XL</text>
<rect x="99.0" y="689.40" width="83.00" height="31.2" fill="#b0adac"/>
<text class="bd" transform="translate(141.80,714.40) scale(0.83,1)">56cm</text>
<rect x="185.0" y="689.40" width="83.30" height="31.2" fill="#f5f5f5"/>
<text class="bd" transform="translate(226.35,714.40) scale(0.83,1)">22.05″</text>
<rect x="271.4" y="689.40" width="82.90" height="31.2" fill="#b0adac"/>
<text class="bd" transform="translate(314.15,714.40) scale(0.83,1)">186cm</text>
<rect x="357.6" y="689.40" width="83.20" height="31.2" fill="#f5f5f5"/>
<text class="bd" transform="translate(398.90,714.40) scale(0.83,1)">73.23″</text>
<rect x="444.0" y="689.40" width="83.00" height="31.2" fill="#b0adac"/>
<text class="bd" transform="translate(486.80,714.40) scale(0.83,1)">34cm</text>
<rect x="530.0" y="689.40" width="83.80" height="31.2" fill="#f5f5f5"/>
<text class="bd" transform="translate(571.60,714.40) scale(0.83,1)">13.39″</text>
<rect x="616.6" y="689.40" width="83.40" height="31.2" fill="#b0adac"/>
<text class="bd" transform="translate(659.60,714.40) scale(0.83,1)">121cm</text>
<rect x="702.8" y="689.40" width="86.00" height="31.2" fill="#f5f5f5"/>
<text class="bd" transform="translate(745.50,714.40) scale(0.83,1)">47.64″</text>
<rect x="12.5" y="724.40" width="83.30" height="31.2" fill="#cecece"/>
<text class="bd" transform="translate(54.15,749.40) scale(0.725,1)">4XL</text>
<rect x="99.0" y="724.40" width="83.00" height="31.2" fill="#b0adac"/>
<text class="bd" transform="translate(141.80,749.40) scale(0.83,1)">57.5cm</text>
<rect x="185.0" y="724.40" width="83.30" height="31.2" fill="#f5f5f5"/>
<text class="bd" transform="translate(226.35,749.40) scale(0.83,1)">22.64″</text>
<rect x="271.4" y="724.40" width="82.90" height="31.2" fill="#b0adac"/>
<text class="bd" transform="translate(314.15,749.40) scale(0.83,1)">191cm</text>
<rect x="357.6" y="724.40" width="83.20" height="31.2" fill="#f5f5f5"/>
<text class="bd" transform="translate(398.90,749.40) scale(0.83,1)">75.20″</text>
<rect x="444.0" y="724.40" width="83.00" height="31.2" fill="#b0adac"/>
<text class="bd" transform="translate(486.80,749.40) scale(0.83,1)">35cm</text>
<rect x="530.0" y="724.40" width="83.80" height="31.2" fill="#f5f5f5"/>
<text class="bd" transform="translate(571.60,749.40) scale(0.83,1)">13.78″</text>
<rect x="616.6" y="724.40" width="83.40" height="31.2" fill="#b0adac"/>
<text class="bd" transform="translate(659.60,749.40) scale(0.83,1)">122.5cm</text>
<rect x="702.8" y="724.40" width="86.00" height="31.2" fill="#f5f5f5"/>
<text class="bd" transform="translate(745.50,749.40) scale(0.83,1)">48.23″</text>
<rect x="12.5" y="759.40" width="83.30" height="33" fill="#cecece"/>
<text class="bd" transform="translate(54.15,784.40) scale(0.725,1)">5XL</text>
<rect x="99.0" y="759.40" width="83.00" height="33" fill="#b0adac"/>
<text class="bd" transform="translate(141.80,784.40) scale(0.83,1)">59cm</text>
<rect x="185.0" y="759.40" width="83.30" height="33" fill="#f5f5f5"/>
<text class="bd" transform="translate(226.35,784.40) scale(0.83,1)">23.23″</text>
<rect x="271.4" y="759.40" width="82.90" height="33" fill="#b0adac"/>
<text class="bd" transform="translate(314.15,784.40) scale(0.83,1)">196cm</text>
<rect x="357.6" y="759.40" width="83.20" height="33" fill="#f5f5f5"/>
<text class="bd" transform="translate(398.90,784.40) scale(0.83,1)">77.17″</text>
<rect x="444.0" y="759.40" width="83.00" height="33" fill="#b0adac"/>
<text class="bd" transform="translate(486.80,784.40) scale(0.83,1)">36cm</text>
<rect x="530.0" y="759.40" width="83.80" height="33" fill="#f5f5f5"/>
<text class="bd" transform="translate(571.60,784.40) scale(0.83,1)">14.17″</text>
<rect x="616.6" y="759.40" width="83.40" height="33" fill="#b0adac"/>
<text class="bd" transform="translate(659.60,784.40) scale(0.83,1)">124cm</text>
<rect x="702.8" y="759.40" width="86.00" height="33" fill="#f5f5f5"/>
<text class="bd" transform="translate(745.50,784.40) scale(0.83,1)">48.82″</text>
</g>
</svg></body></html>
